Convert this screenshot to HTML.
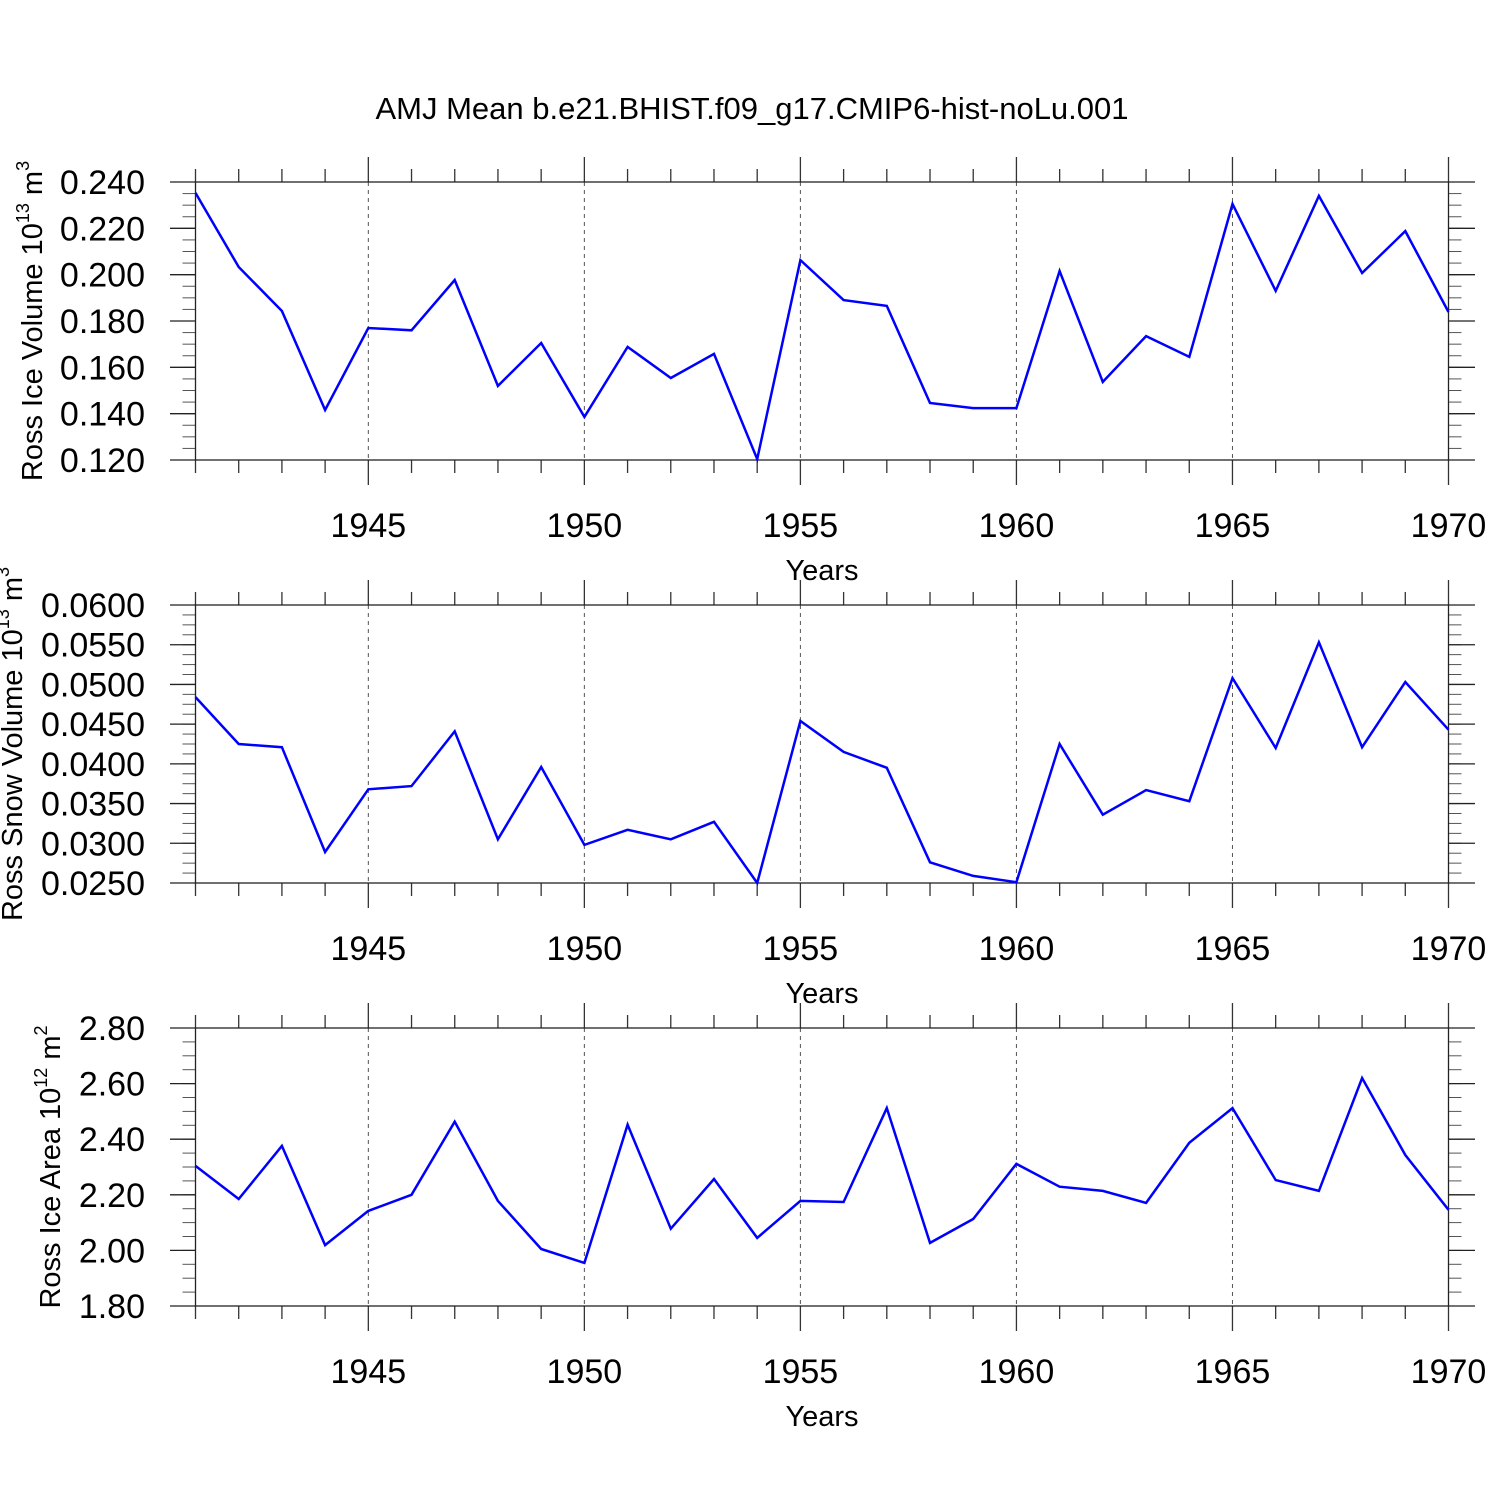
<!DOCTYPE html>
<html><head><meta charset="utf-8"><style>
html,body{margin:0;padding:0;background:#fff}
svg{display:block;font-family:"Liberation Sans",sans-serif}
</style></head><body>
<svg id="chart" width="1500" height="1500" viewBox="0 0 1500 1500">
<text x="752" y="119" font-size="31" text-anchor="middle">AMJ Mean b.e21.BHIST.f09_g17.CMIP6-hist-noLu.001</text>
</svg>
<script>
const years = [1941,1942,1943,1944,1945,1946,1947,1948,1949,1950,1951,1952,1953,1954,1955,1956,1957,1958,1959,1960,1961,1962,1963,1964,1965,1966,1967,1968,1969,1970];
const iceVolume = [0.2353,0.2033,0.1843,0.1416,0.177,0.176,0.1977,0.152,0.1705,0.1386,0.1688,0.1554,0.1658,0.1204,0.2063,0.189,0.1865,0.1446,0.1424,0.1424,0.2016,0.1537,0.1735,0.1645,0.2305,0.193,0.234,0.2007,0.2188,0.1839];
const snowVolume = [0.0484,0.0425,0.0421,0.0289,0.0368,0.0372,0.0441,0.0305,0.0396,0.0298,0.0317,0.0305,0.0327,0.025,0.0454,0.0415,0.0395,0.0276,0.0259,0.0251,0.0425,0.0336,0.0367,0.0353,0.0508,0.042,0.0553,0.0421,0.0503,0.0443];
const iceArea = [2.304,2.185,2.376,2.019,2.142,2.2,2.463,2.178,2.005,1.955,2.452,2.078,2.257,2.045,2.178,2.174,2.512,2.027,2.113,2.311,2.229,2.214,2.171,2.387,2.512,2.253,2.214,2.62,2.343,2.146];
const xTickLabels = [1945,1950,1955,1960,1965,1970];
const iceVolTicks = ["0.120","0.140","0.160","0.180","0.200","0.220","0.240"];
const snowVolTicks = ["0.0250","0.0300","0.0350","0.0400","0.0450","0.0500","0.0550","0.0600"];
const iceAreaTicks = ["1.80","2.00","2.20","2.40","2.60","2.80"];

const NS="http://www.w3.org/2000/svg";
const svg=document.getElementById('chart');
function mk(tag,attrs,parent){const e=document.createElementNS(NS,tag);for(const k in attrs)e.setAttribute(k,attrs[k]);(parent||svg).appendChild(e);return e;}
const X0=195.5,X1=1448.5;
function xs(yr){return X0+(yr-1941)/(1970-1941)*(X1-X0);}

const panels=[
 {name:'ice-volume',top:182,bot:460,min:0.12,max:0.24,ticks:iceVolTicks,minor:0.005,data:iceVolume,title:'Ross Ice Volume 10',exp:'13',unit:' m',uexp:'3',tx:42},
 {name:'snow-volume',top:605,bot:883,min:0.025,max:0.06,ticks:snowVolTicks,minor:0.00125,data:snowVolume,title:'Ross Snow Volume 10',exp:'13',unit:' m',uexp:'3',tx:22},
 {name:'ice-area',top:1028,bot:1306,min:1.8,max:2.8,ticks:iceAreaTicks,minor:0.05,data:iceArea,title:'Ross Ice Area 10',exp:'12',unit:' m',uexp:'2',tx:60}
];

panels.forEach(p=>{
  const g=mk('g',{});
  
  
  const ys=v=>p.bot-(v-p.min)/(p.max-p.min)*(p.bot-p.top);
  xTickLabels.forEach(yr=>{
    if(yr<1970){const l=mk('line',{x1:xs(yr),x2:xs(yr),y1:p.top,y2:p.bot,stroke:'#555','stroke-width':1,'stroke-dasharray':'4,4'},g);
    
    }
  });
  years.forEach(yr=>{
    const major=xTickLabels.includes(yr);const len=major?25:13;const x=xs(yr);
    mk('line',{x1:x,x2:x,y1:p.top,y2:p.top-len,stroke:'#333','stroke-width':1.3},g);
    mk('line',{x1:x,x2:x,y1:p.bot,y2:p.bot+len,stroke:'#333','stroke-width':1.3},g);
  });
  const n=Math.round((p.max-p.min)/p.minor);
  for(let i=0;i<=n;i++){
    const y=p.bot-i/n*(p.bot-p.top);
    mk('line',{x1:X0,x2:X0-13,y1:y,y2:y,stroke:'#555','stroke-width':1},g);
    mk('line',{x1:X1,x2:X1+13,y1:y,y2:y,stroke:'#555','stroke-width':1},g);
  }
  p.ticks.forEach(t=>{
    const y=ys(parseFloat(t));
    mk('line',{x1:X0,x2:170,y1:y,y2:y,stroke:'#222','stroke-width':1.3},g);
    mk('line',{x1:X1,x2:1475,y1:y,y2:y,stroke:'#222','stroke-width':1.3},g);
    const tx=mk('text',{x:145,y:y+12,'font-size':34,'text-anchor':'end'},g);tx.textContent=t;
    
    
  });
  const fr=mk('rect',{x:X0,y:p.top,width:X1-X0,height:p.bot-p.top,fill:'none',stroke:'#222','stroke-width':1.3},g);
  
  
  xTickLabels.forEach(yr=>{
    const t=mk('text',{x:xs(yr),y:p.bot+77,'font-size':34,'text-anchor':'middle'},g);t.textContent=yr;
    
    
  });
  const xt=mk('text',{x:822,y:p.bot+120,'font-size':29,'text-anchor':'middle'},g);xt.textContent='Years';
  
  
  const cy=(p.top+p.bot)/2;
  const yt=mk('text',{x:0,y:0,'font-size':29,'text-anchor':'middle',transform:`translate(${p.tx},${cy}) rotate(-90)`},g);
  
  
  const s1=mk('tspan',{},yt);s1.textContent=p.title;
  const s2=mk('tspan',{dy:-13,'font-size':18},yt);s2.textContent=p.exp;
  const s3=mk('tspan',{dy:13},yt);s3.textContent=p.unit;
  const s4=mk('tspan',{dy:-13,'font-size':18},yt);s4.textContent=p.uexp;
  const pts=p.data.map((v,i)=>xs(years[i]).toFixed(1)+','+ys(v).toFixed(1)).join(' ');
  const pl=mk('polyline',{points:pts,fill:'none',stroke:'#0000ff','stroke-width':2.5,'stroke-linejoin':'miter'},g);
  
  
});
</script>
</body></html>
